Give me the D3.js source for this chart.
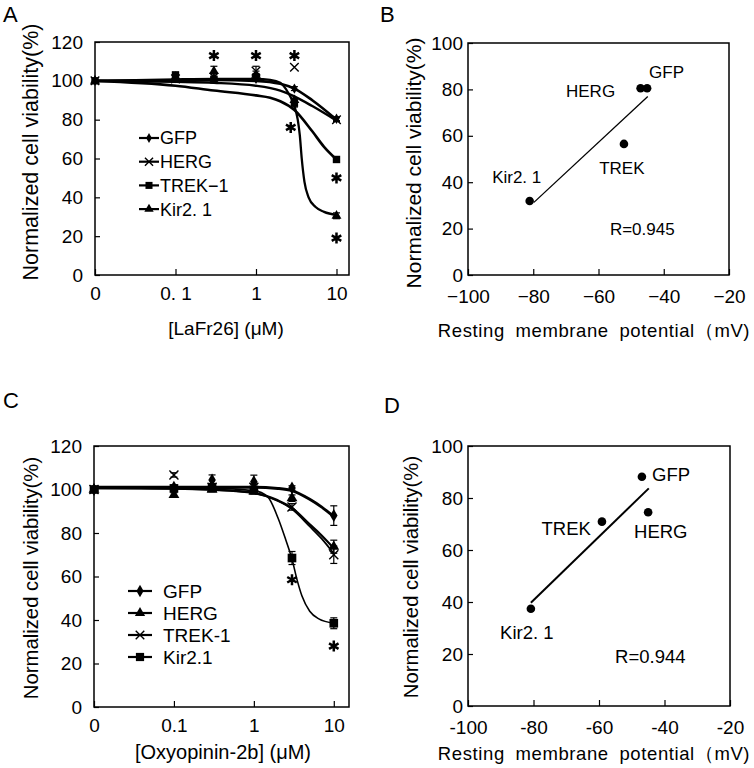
<!DOCTYPE html>
<html><head><meta charset="utf-8">
<script src="https://cdn.jsdelivr.net/npm/d3@7"></script>
<style>
body{margin:0;background:#fff}
svg{display:block}
text{font-family:"Liberation Sans",Arial,Helvetica,sans-serif;fill:#000}
</style>
</head><body>
<svg id="c" width="754" height="768"></svg>
<script>
// ---------------- DATA ----------------
// Panel A : LaFr26 dose-response
const dosesA = [0.01, 0.1, 0.3, 1, 3, 10];           // 0.01 plotted as "0"
const doseTicks = [0.01, 0.1, 1, 10];
const doseTickLabelsA = ["0", "0. 1", "1", "10"];
const viabTicks120 = [0, 20, 40, 60, 80, 100, 120];
const gfpA  = [100, 101.5, 101, 101, 96, 80.5];
const gfpAErr  = [0, 1, 1, 1, 1, 1];
const hergA = [100, 101, 102, 105, 107, 80];
const hergAErr = [0, 1, 1.5, 2.5, 0, 1];
const trekA = [100, 103, 100.5, 102, 88.5, 59.5];
const trekAErr = [0, 1.5, 1, 1, 2, 1];
const kirA  = [100, 102, 105, 103, 90, 30.5];
const kirAErr  = [0, 1, 2.5, 2, 1, 1.5];
// fitted curves [dose, viability]
const fitGfpA  = [[0.01,100],[0.1,100.3],[0.3,100.5],[1,100],[2,98.5],[3,96],[5,90],[10,80]];
const fitHergA = [[0.01,100],[0.1,99.5],[0.3,99],[1,97.5],[2,95],[3,92],[5,87],[10,79.5]];
const fitTrekA = [[0.01,100],[0.1,97.5],[0.3,95],[1,92.5],[1.5,91.3],[2,89.5],[3,85],[5,74],[7,66],[10,59.5]];
const fitKirA  = [[0.01,100],[0.1,100.8],[0.3,101],[1,101],[1.5,100.5],[2,99],[2.5,94],[3,87],[3.3,80],[3.5,72],[3.7,60],[4,48],[4.5,40],[5.5,35],[7,32.5],[10,31]];
const starsA = [[0.3,113],[1,113],[3,113],[2.7,76],[10,50],[10,19]];

// Panel C : Oxyopinin-2b dose-response
const dosesC = [0.01, 0.1, 0.3, 1, 3, 10];
const doseTickLabelsC = ["0", "0.1", "1", "10"];
const gfpC  = [100, 101, 104.4, 103.6, 100.7, 88];
const gfpCErr  = [0, 1, 2.3, 3, 1, 4.5];
const hergC = [100, 97.5, 100, 99, 96, 73.7];
const hergCErr = [0, 1, 1, 1, 1.5, 3];
const trekC = [100, 106.7, 101, 101, 92, 70];
const trekCErr = [0, 1, 1, 1.5, 1.5, 4];
const kirC  = [100, 100.5, 101, 99.8, 68.5, 38.5];
const kirCErr  = [0, 1, 1, 1.5, 3, 2.5];
const fitGfpC  = [[0.01,101],[0.1,101],[0.3,101],[1,101],[2,100.5],[3,99.5],[5,95.5],[7,92],[10,87.5]];
const fitHergC = [[0.01,101],[0.1,100.5],[0.3,100],[1,98.5],[2,95],[3,91.5],[5,84],[7,79],[10,73]];
const fitTrekC = [[0.01,100.5],[0.1,100.3],[0.3,99.8],[1,98.3],[2,94.7],[3,91],[5,83],[7,77.5],[10,70.5]];
const fitKirC  = [[0.01,100.5],[0.3,100.5],[1,99.5],[1.5,96.5],[2,87],[2.5,77],[3,68],[3.5,58],[4,51],[5,44],[6.5,40.5],[10,38.5]];
const starsC = [[3,58.5],[10,28]];

// Panel B : viability vs resting potential (LaFr26)
const potTicks = [-100, -80, -60, -40, -20];
const viabTicks100 = [0, 20, 40, 60, 80, 100];
const namesB = ["Kir2. 1", "HERG", "GFP", "TREK"];
const potB   = [-81.1, -47.1, -45.1, -52.2];
const viabB  = [31.9, 80.5, 80.5, 56.5];
const lineB  = [[-79.8, 31.3], [-44.9, 76.9]];
const labelsB = [
  {t:"Kir2. 1", x:-92.6, y:39.7, a:"start"},
  {t:"HERG", x:-54.9, y:76.7, a:"end"},
  {t:"GFP", x:-44.5, y:84.9, a:"start"},
  {t:"TREK", x:-59.8, y:43.6, a:"start"},
  {t:"R=0.945", x:-56.5, y:17.2, a:"start"}
];

// Panel D : viability vs resting potential (Oxyopinin-2b)
const namesD = ["Kir2. 1", "TREK", "GFP", "HERG"];
const potD   = [-80.8, -59.1, -46.9, -45.0];
const viabD  = [37.4, 70.9, 88.2, 74.5];
const lineD  = [[-80.8, 39.7], [-44.8, 83.7]];
const labelsD = [
  {t:"GFP", x:-43.8, y:86.5, a:"start"},
  {t:"TREK", x:-62.5, y:65.8, a:"end"},
  {t:"HERG", x:-49.3, y:64.6, a:"start"},
  {t:"Kir2. 1", x:-90.2, y:25.8, a:"start"},
  {t:"R=0.944", x:-55.1, y:16.5, a:"start"}
];

// ---------------- DRAWING ----------------
const svg = d3.select("#c");
const FONT = '"Liberation Sans",Arial,Helvetica,sans-serif';

const symTimes = d3.symbolTimes || {draw(ctx,size){const r=Math.sqrt(size)/2.8;ctx.moveTo(-r,-r);ctx.lineTo(r,r);ctx.moveTo(r,-r);ctx.lineTo(-r,r);}};
const symAst = d3.symbolAsterisk || {draw(ctx,size){const r=Math.sqrt(size)/2;for(let i=0;i<3;i++){const a=Math.PI/3*i+Math.PI/2;ctx.moveTo(r*Math.cos(a),r*Math.sin(a));ctx.lineTo(-r*Math.cos(a),-r*Math.sin(a));}}};

function marker(g, type, x, y, s) {
  let sym, fill = "#000", stroke = "none", sw = 0, size;
  if (type === "diamond") { sym = d3.symbolDiamond; size = s * 0.7; }
  else if (type === "square") { sym = d3.symbolSquare; size = s; }
  else if (type === "triangle") { sym = d3.symbolTriangle; size = s * 0.85; }
  else if (type === "times") { sym = symTimes; size = s * 1.1; fill = "none"; stroke = "#000"; sw = 1.4; }
  g.append("path").attr("d", d3.symbol().type(sym).size(size)())
    .attr("transform", `translate(${x},${y})`)
    .attr("fill", fill).attr("stroke", stroke).attr("stroke-width", sw);
}
function star(g, x, y, s) {
  g.append("path").attr("d", d3.symbol().type(symAst).size(s)())
    .attr("transform", `translate(${x},${y})`)
    .attr("fill", "none").attr("stroke", "#000").attr("stroke-width", 2.5);
}
function frame(g, x, y) {
  const [x0, x1] = x.range(), [y0, y1] = y.range();
  g.append("rect").attr("x", x0).attr("y", y1).attr("width", x1 - x0).attr("height", y0 - y1)
    .attr("fill", "none").attr("stroke", "#000").attr("stroke-width", 1.5);
}
function axes(g, x, y, xt, xl, yt, fs, padX, padY, minusFmt) {
  const ax = g.append("g").attr("transform", `translate(0,${y.range()[0]})`)
    .call(d3.axisBottom(x).tickValues(xt).tickFormat((d, i) => xl ? xl[i] : minusFmt(d)).tickSize(-6).tickSizeOuter(0).tickPadding(padX));
  const ay = g.append("g").attr("transform", `translate(${x.range()[0]},0)`)
    .call(d3.axisLeft(y).tickValues(yt).tickFormat(d3.format("d")).tickSize(-5).tickSizeOuter(0).tickPadding(padY));
  [ax, ay].forEach(a => {
    a.select(".domain").remove();
    a.selectAll("line").attr("stroke", "#000").attr("stroke-width", 1.2);
    a.selectAll("text").attr("font-family", FONT).attr("font-size", fs).attr("fill", "#000");
  });
  return [ax, ay];
}
function ytitle(x, y, fs) {
  svg.append("text").attr("transform", `translate(${x},${y}) rotate(-90)`)
    .attr("text-anchor", "middle").attr("dominant-baseline", "central")
    .attr("font-size", fs).text("Normalized cell viability(%)");
}
function letter(t, x, y) {
  svg.append("text").attr("x", x).attr("y", y).attr("font-size", 22).text(t);
}

function dosePanel(opts) {
  const g = svg.append("g");
  const x = d3.scaleLog().domain(opts.xdom).range(opts.xr);
  const y = d3.scaleLinear().domain([0, 120]).range(opts.yr);
  frame(g, x, y);
  axes(g, x, y, doseTicks, opts.tickLabels, viabTicks120, 19, 12, 12);
  const line = d3.line().x(d => x(d[0])).y(d => y(d[1])).curve(d3.curveMonotoneX);
  opts.series.forEach(s => {
    g.append("path").attr("d", line(s.fit)).attr("fill", "none")
      .attr("stroke", "#000").attr("stroke-width", s.lw);
  });
  opts.series.forEach(s => {
    s.vals.forEach((v, i) => {
      const e = s.err[i], cx = x(opts.doses[i]);
      if (e > 0) {
        const eg = g.append("g").attr("stroke", "#000").attr("stroke-width", 1.2);
        eg.append("line").attr("x1", cx).attr("x2", cx).attr("y1", y(v - e)).attr("y2", y(v + e));
        eg.append("line").attr("x1", cx - 3.5).attr("x2", cx + 3.5).attr("y1", y(v + e)).attr("y2", y(v + e));
        eg.append("line").attr("x1", cx - 3.5).attr("x2", cx + 3.5).attr("y1", y(v - e)).attr("y2", y(v - e));
      }
      marker(g, s.m, cx, y(v), s.ms);
    });
  });
  opts.stars.forEach(d => star(g, x(d[0]), y(d[1]), 85));
  // legend
  opts.series.forEach((s, i) => {
    const ly = opts.leg.y + i * opts.leg.dy;
    g.append("line").attr("x1", opts.leg.x0).attr("x2", opts.leg.x1).attr("y1", ly).attr("y2", ly)
      .attr("stroke", "#000").attr("stroke-width", 2.2);
    marker(g, s.m, (opts.leg.x0 + opts.leg.x1) / 2, ly, s.ms * 0.9);
    g.append("text").attr("x", opts.leg.tx).attr("y", ly).attr("dy", "0.36em")
      .attr("font-size", opts.leg.fs).text(s.name);
  });
  return g;
}

function scatterPanel(opts) {
  const g = svg.append("g");
  const x = d3.scaleLinear().domain([-100, -20]).range(opts.xr);
  const y = d3.scaleLinear().domain([0, 100]).range(opts.yr);
  frame(g, x, y);
  axes(g, x, y, potTicks, null, viabTicks100, 19, opts.padX, 5, opts.fmt);
  g.append("line").attr("x1", x(opts.line[0][0])).attr("y1", y(opts.line[0][1]))
    .attr("x2", x(opts.line[1][0])).attr("y2", y(opts.line[1][1]))
    .attr("stroke", "#000").attr("stroke-width", opts.lw);
  opts.pot.forEach((p, i) => {
    g.append("circle").attr("cx", x(p)).attr("cy", y(opts.viab[i])).attr("r", 4.3).attr("fill", "#000");
  });
  opts.labels.forEach(l => {
    g.append("text").attr("x", x(l.x)).attr("y", y(l.y)).attr("text-anchor", l.a)
      .attr("font-size", opts.lfs).text(l.t);
  });
  svg.append("text").attr("x", opts.tx).attr("y", opts.ty).attr("text-anchor", "middle")
    .attr("font-size", 18.5).attr("letter-spacing", "0.6px").attr("word-spacing", "5px")
    .text("Resting membrane potential\uFF08mV)");
  return g;
}

// Panel A
dosePanel({
  xdom: [0.01, 14.3], xr: [95, 349], yr: [275, 42], doses: dosesA, tickLabels: doseTickLabelsA,
  series: [
    {name: "GFP", vals: gfpA, err: gfpAErr, fit: fitGfpA, m: "diamond", ms: 45, lw: 2.6},
    {name: "HERG", vals: hergA, err: hergAErr, fit: fitHergA, m: "times", ms: 45, lw: 2.4},
    {name: "TREK\u22121", vals: trekA, err: trekAErr, fit: fitTrekA, m: "square", ms: 55, lw: 2.6},
    {name: "Kir2. 1", vals: kirA, err: kirAErr, fit: fitKirA, m: "triangle", ms: 50, lw: 2.3}
  ],
  stars: starsA,
  leg: {x0: 139, x1: 159, y: 138, dy: 23.7, tx: 160, fs: 18}
});
svg.append("text").attr("x", 226).attr("y", 335).attr("text-anchor", "middle").attr("font-size", 19)
  .text("[LaFr26] (\u03BCM)");
ytitle(31, 152, 21.5);
letter("A", 3, 22);

// Panel C
dosePanel({
  xdom: [0.01, 15.5], xr: [94, 349], yr: [707, 446], doses: dosesC, tickLabels: doseTickLabelsC,
  series: [
    {name: "GFP", vals: gfpC, err: gfpCErr, fit: fitGfpC, m: "diamond", ms: 70, lw: 3},
    {name: "HERG", vals: hergC, err: hergCErr, fit: fitHergC, m: "triangle", ms: 60, lw: 2.2},
    {name: "TREK-1", vals: trekC, err: trekCErr, fit: fitTrekC, m: "times", ms: 50, lw: 1.8},
    {name: "Kir2.1", vals: kirC, err: kirCErr, fit: fitKirC, m: "square", ms: 75, lw: 1.6}
  ],
  stars: starsC,
  leg: {x0: 128, x1: 152, y: 591, dy: 22, tx: 163, fs: 19}
});
svg.append("text").attr("x", 223).attr("y", 759).attr("text-anchor", "middle").attr("font-size", 20)
  .text("[Oxyopinin-2b] (\u03BCM)");
ytitle(31, 578, 20.3);
letter("C", 3, 408);

// Panel B
scatterPanel({
  xr: [468, 729], yr: [275, 43], pot: potB, viab: viabB, line: lineB, labels: labelsB, lw: 1.3,
  lfs: 17, padX: 15, fmt: d => "\u2212" + Math.abs(d), tx: 594, ty: 337
});
ytitle(413, 163, 21);
letter("B", 380, 22);

// Panel D
scatterPanel({
  xr: [468, 730], yr: [706, 446], pot: potD, viab: viabD, line: lineD, labels: labelsD, lw: 2,
  lfs: 18.5, padX: 15, fmt: d => "-" + Math.abs(d), tx: 594, ty: 760
});
ytitle(411, 577, 20.3);
letter("D", 384, 413);
</script>
</body></html>
